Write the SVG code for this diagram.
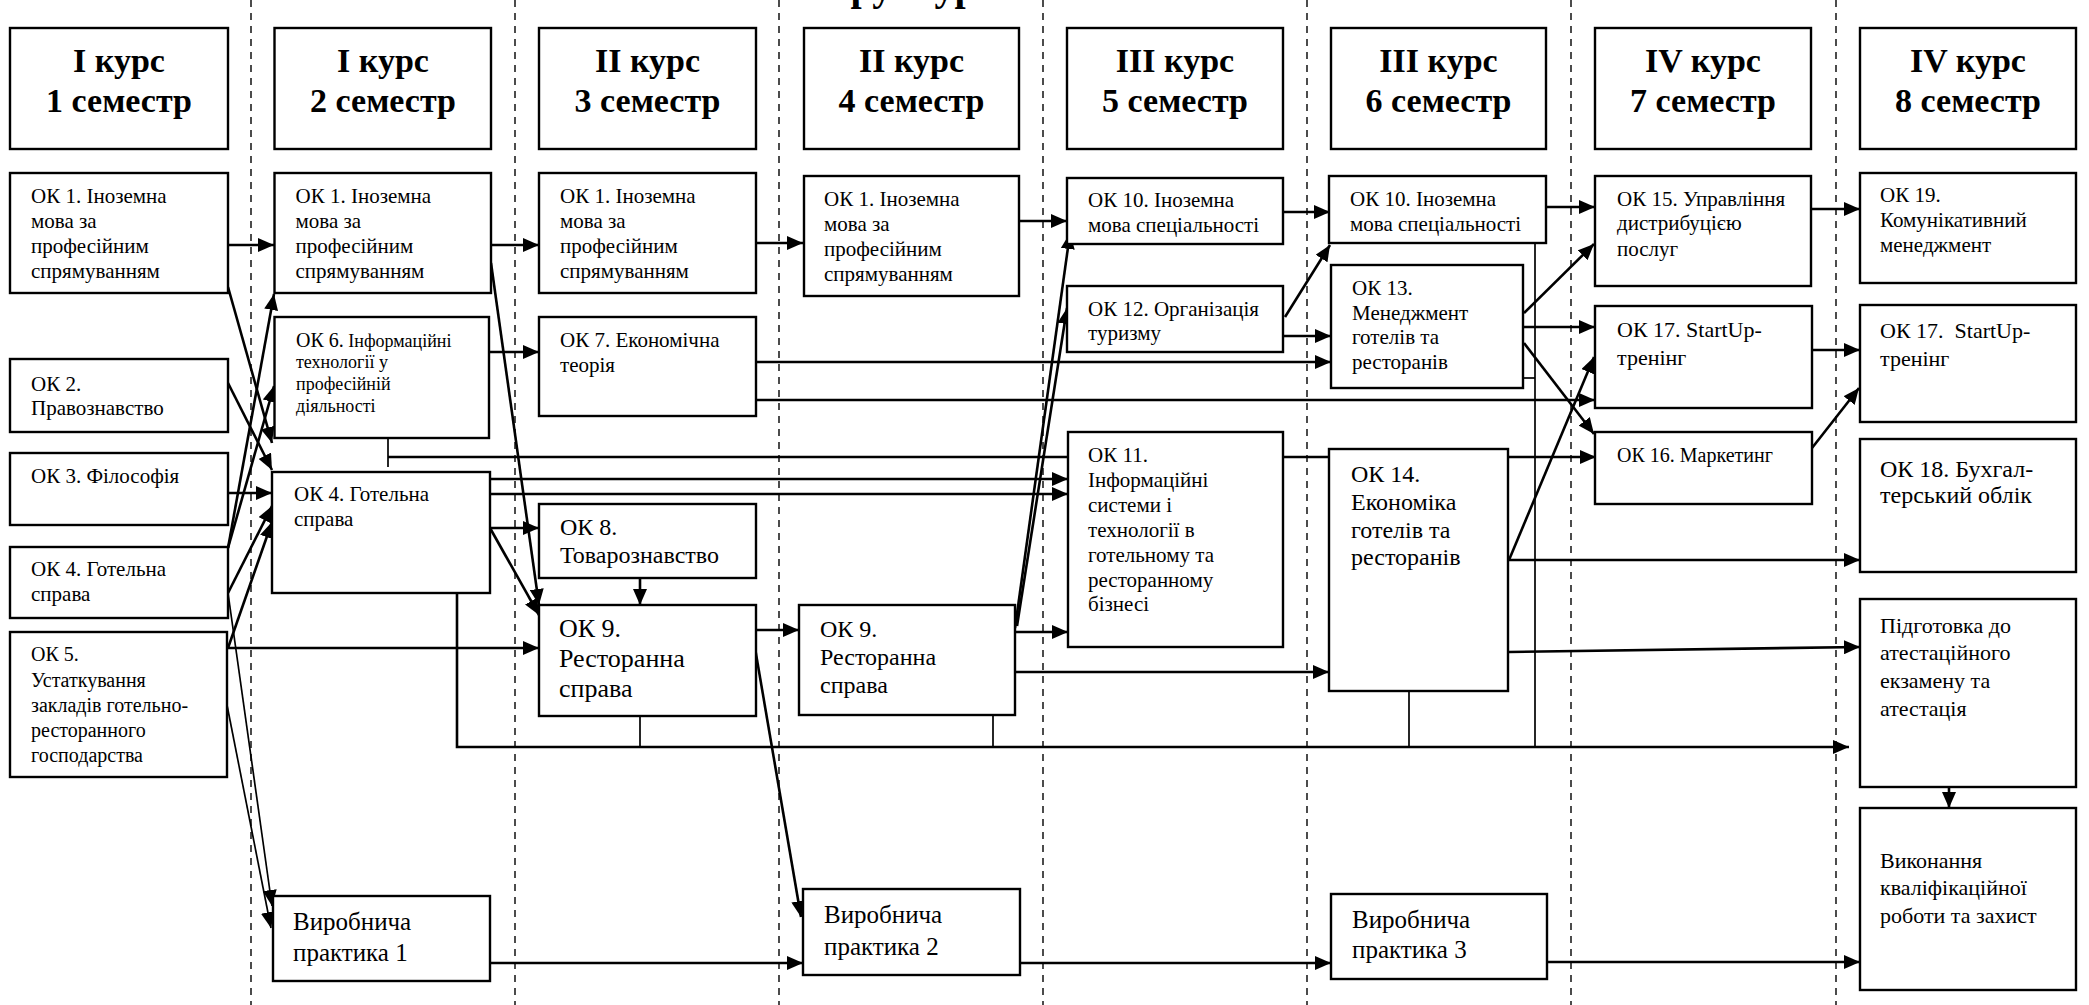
<svg xmlns="http://www.w3.org/2000/svg" width="2089" height="1005" viewBox="0 0 2089 1005">
<style>
  .bg{fill:#fff}
  .box{fill:#fff;stroke:#000;stroke-width:2.4}
  .hd{font-family:"Liberation Serif","Times New Roman",serif;font-weight:bold;font-size:34px;text-anchor:middle;fill:#000}
  .t{font-family:"Liberation Serif","Times New Roman",serif;font-size:21px;fill:#000}
  .t18{font-size:18px}
  .t20{font-size:20px}
  .t22{font-size:22px}
  .t24{font-size:24px}
  .t25{font-size:25px}
  .t26{font-size:26px}
  .title{font-family:"Liberation Serif","Times New Roman",serif;font-weight:bold;font-size:40px;fill:#000}
  .dash{stroke:#000;stroke-width:1.4;stroke-dasharray:7 6;fill:none}
  .c{stroke:#000;stroke-width:2.6;fill:none}
  .a{marker-end:url(#ah)}
  .thin{stroke-width:1.7}
</style>
<defs>
  <marker id="ah" markerWidth="16" markerHeight="14" refX="16" refY="7" orient="auto" markerUnits="userSpaceOnUse">
    <path d="M0,0 L16,7 L0,14 z" fill="#000"/>
  </marker>
</defs>
<rect class="bg" x="0" y="0" width="2089" height="1005"/>
<text class="title" x="802" y="0">Структурно-логічна схема</text>
<g id="dividers">
  <line class="dash" x1="251" y1="0" x2="251" y2="1005"/>
  <line class="dash" x1="515" y1="0" x2="515" y2="1005"/>
  <line class="dash" x1="779" y1="0" x2="779" y2="1005"/>
  <line class="dash" x1="1043" y1="0" x2="1043" y2="1005"/>
  <line class="dash" x1="1307" y1="0" x2="1307" y2="1005"/>
  <line class="dash" x1="1571" y1="0" x2="1571" y2="1005"/>
  <line class="dash" x1="1836" y1="0" x2="1836" y2="1005"/>
</g>

<g id="connectors">
  <path class="c a" d="M228,245 H274"/>
  <path class="c a" d="M491,245 H539"/>
  <path class="c a" d="M756,243 H803"/>
  <path class="c a" d="M1019,221 H1067"/>
  <path class="c a" d="M1283,212 H1330"/>
  <path class="c a" d="M1546,207 H1595"/>
  <path class="c a" d="M1811,209 H1860"/>
  <path class="c a" d="M228,287 L272,443"/>
  <path class="c a" d="M228,383 L272,470"/>
  <path class="c a" d="M228,493 H272"/>
  <path class="c a" d="M228,548 L274,294"/>
  <path class="c a" d="M228,548 L274,386"/>
  <path class="c a" d="M228,593 L272,506"/>
  <path class="c a" d="M228,648 L272,522"/>
  <path class="c thin a" d="M228,593 L272,906"/>
  <path class="c thin a" d="M227,705 L271,928"/>
  <path class="c a" d="M228,648 H539"/>
  <path class="c a" d="M491,263 L539,605"/>
  <path class="c a" d="M489,352 H539"/>
  <path class="c a" d="M490,479 H1068"/>
  <path class="c a" d="M490,494 H1068"/>
  <path class="c a" d="M490,528 H539"/>
  <path class="c a" d="M490,528 L539,615"/>
  <path class="c thin" d="M388,438 V467"/>
  <path class="c a" d="M388,457 H1068 M1283,457 H1329 M1508,457 H1596"/>
  <path class="c a" d="M640,578 V605"/>
  <path class="c a" d="M756,630 H799"/>
  <path class="c a" d="M755,648 L801,917"/>
  <path class="c a" d="M490,963 H803"/>
  <path class="c a" d="M1020,963 H1331"/>
  <path class="c a" d="M1547,962 H1860"/>
  <path class="c a" d="M756,362 H1331"/>
  <path class="c a" d="M756,400 H1595"/>
  <path class="c a" d="M1015,628 L1070,233"/>
  <path class="c a" d="M1017,626 L1067,308"/>
  <path class="c a" d="M1015,632 H1068"/>
  <path class="c a" d="M1015,672 H1329"/>
  <path class="c a" d="M1285,317 L1330,245"/>
  <path class="c a" d="M1283,336 H1331"/>
  <path class="c a" d="M1524,313 L1594,244"/>
  <path class="c a" d="M1523,327 H1595"/>
  <path class="c a" d="M1524,343 L1594,434"/>
  <path class="c thin" d="M1523,378 H1535"/>
  <path class="c thin" d="M1535,243 V747"/>
  <path class="c a" d="M1509,560 L1594,357"/>
  <path class="c a" d="M1509,560 H1860"/>
  <path class="c a" d="M1509,652 L1860,647"/>
  <path class="c thin" d="M1409,691 V747"/>
  <path class="c thin" d="M640,716 V747"/>
  <path class="c thin" d="M993,715 V747"/>
  <path class="c a" d="M457,593 V747 H1849"/>
  <path class="c a" d="M1811,350 H1860"/>
  <path class="c a" d="M1812,448 L1859,388"/>
  <path class="c a" d="M1949,787 V808"/>
</g>

<g id="h1"><rect class="box" x="10" y="28" width="218" height="121"/><text class="hd" x="119" y="72">I курс</text><text class="hd" x="119" y="112">1 семестр</text></g>
<g id="h2"><rect class="box" x="274.5" y="28" width="216.5" height="121"/><text class="hd" x="383" y="72">I курс</text><text class="hd" x="383" y="112">2 семестр</text></g>
<g id="h3"><rect class="box" x="539" y="28" width="217" height="121"/><text class="hd" x="647.5" y="72">II курс</text><text class="hd" x="647.5" y="112">3 семестр</text></g>
<g id="h4"><rect class="box" x="804" y="28" width="215" height="121"/><text class="hd" x="911.5" y="72">II курс</text><text class="hd" x="911.5" y="112">4 семестр</text></g>
<g id="h5"><rect class="box" x="1067" y="28" width="216" height="121"/><text class="hd" x="1175" y="72">III курс</text><text class="hd" x="1175" y="112">5 семестр</text></g>
<g id="h6"><rect class="box" x="1331" y="28" width="215" height="121"/><text class="hd" x="1438.5" y="72">III курс</text><text class="hd" x="1438.5" y="112">6 семестр</text></g>
<g id="h7"><rect class="box" x="1595" y="28" width="216" height="121"/><text class="hd" x="1703" y="72">IV курс</text><text class="hd" x="1703" y="112">7 семестр</text></g>
<g id="h8"><rect class="box" x="1860" y="28" width="216" height="121"/><text class="hd" x="1968" y="72">IV курс</text><text class="hd" x="1968" y="112">8 семестр</text></g>

<g id="ok1-s1"><rect class="box" x="10" y="173" width="218" height="120"/><text class="t" x="31" y="203">ОК 1. Іноземна</text><text class="t" x="31" y="228">мова за</text><text class="t" x="31" y="253">професійним</text><text class="t" x="31" y="278">спрямуванням</text></g>
<g id="ok2"><rect class="box" x="10" y="359" width="218" height="73"/><text class="t" x="31" y="391">ОК 2.</text><text class="t" x="31" y="415">Правознавство</text></g>
<g id="ok3"><rect class="box" x="10" y="453" width="218" height="72"/><text class="t" x="31" y="483">ОК 3. Філософія</text></g>
<g id="ok4-s1"><rect class="box" x="10" y="547" width="218" height="71"/><text class="t" x="31" y="576">ОК 4. Готельна</text><text class="t" x="31" y="601">справа</text></g>
<g id="ok5"><rect class="box" x="10" y="632" width="217" height="145"/><text class="t t20" x="31" y="661">ОК 5.</text><text class="t t20" x="31" y="687">Устаткування</text><text class="t t20" x="31" y="712">закладів готельно-</text><text class="t t20" x="31" y="737">ресторанного</text><text class="t t20" x="31" y="762">господарства</text></g>

<g id="ok1-s2"><rect class="box" x="274.5" y="173" width="216.5" height="120"/><text class="t" x="295.5" y="203">ОК 1. Іноземна</text><text class="t" x="295.5" y="228">мова за</text><text class="t" x="295.5" y="253">професійним</text><text class="t" x="295.5" y="278">спрямуванням</text></g>
<g id="ok6"><rect class="box" x="274.5" y="317" width="214.5" height="121"/><text class="t" x="296" y="347"><tspan class="t20">ОК 6.</tspan><tspan class="t18"> Інформаційні</tspan></text><text class="t t18" x="296" y="368">технології у</text><text class="t t18" x="296" y="390">професійній</text><text class="t t18" x="296" y="412">діяльності</text></g>
<g id="ok4-s2"><rect class="box" x="272" y="472" width="218" height="121"/><text class="t" x="294" y="501">ОК 4. Готельна</text><text class="t" x="294" y="526">справа</text></g>
<g id="vp1"><rect class="box" x="273" y="896" width="217" height="85"/><text class="t t25" x="293" y="930">Виробнича</text><text class="t t25" x="293" y="961">практика 1</text></g>

<g id="ok1-s3"><rect class="box" x="539" y="173" width="217" height="120"/><text class="t" x="560" y="203">ОК 1. Іноземна</text><text class="t" x="560" y="228">мова за</text><text class="t" x="560" y="253">професійним</text><text class="t" x="560" y="278">спрямуванням</text></g>
<g id="ok7"><rect class="box" x="539" y="317" width="217" height="99"/><text class="t" x="560" y="347">ОК 7. Економічна</text><text class="t" x="560" y="372">теорія</text></g>
<g id="ok8"><rect class="box" x="539" y="504" width="217" height="74"/><text class="t t24" x="560" y="535">ОК 8.</text><text class="t t24" x="560" y="563">Товарознавство</text></g>
<g id="ok9-s3"><rect class="box" x="539" y="605" width="217" height="111"/><text class="t t26" x="559" y="637">ОК 9.</text><text class="t t26" x="559" y="667">Ресторанна</text><text class="t t26" x="559" y="697">справа</text></g>

<g id="ok1-s4"><rect class="box" x="804" y="176" width="215" height="120"/><text class="t" x="824" y="206">ОК 1. Іноземна</text><text class="t" x="824" y="231">мова за</text><text class="t" x="824" y="256">професійним</text><text class="t" x="824" y="281">спрямуванням</text></g>
<g id="ok9-s4"><rect class="box" x="799" y="605" width="216" height="110"/><text class="t t24" x="820" y="637">ОК 9.</text><text class="t t24" x="820" y="665">Ресторанна</text><text class="t t24" x="820" y="693">справа</text></g>
<g id="vp2"><rect class="box" x="803" y="889" width="217" height="86"/><text class="t t25" x="824" y="923">Виробнича</text><text class="t t25" x="824" y="955">практика 2</text></g>

<g id="ok10-s5"><rect class="box" x="1067" y="178" width="216" height="66"/><text class="t" x="1088" y="207">ОК 10. Іноземна</text><text class="t" x="1088" y="232">мова спеціальності</text></g>
<g id="ok12"><rect class="box" x="1067" y="286" width="216" height="66"/><text class="t" x="1088" y="316">ОК 12. Організація</text><text class="t" x="1088" y="340">туризму</text></g>
<g id="ok11"><rect class="box" x="1068" y="432" width="215" height="215"/><text class="t" x="1088" y="462">ОК 11.</text><text class="t" x="1088" y="487">Інформаційні</text><text class="t" x="1088" y="512">системи і</text><text class="t" x="1088" y="537">технології в</text><text class="t" x="1088" y="562">готельному та</text><text class="t" x="1088" y="587">ресторанному</text><text class="t" x="1088" y="611">бізнесі</text></g>

<g id="ok10-s6"><rect class="box" x="1329" y="176" width="217" height="67"/><text class="t" x="1350" y="206">ОК 10. Іноземна</text><text class="t" x="1350" y="231">мова спеціальності</text></g>
<g id="ok13"><rect class="box" x="1331" y="265" width="192" height="123"/><text class="t" x="1352" y="295">ОК 13.</text><text class="t" x="1352" y="320">Менеджмент</text><text class="t" x="1352" y="344">готелів та</text><text class="t" x="1352" y="369">ресторанів</text></g>
<g id="ok14"><rect class="box" x="1329" y="449" width="179" height="242"/><text class="t t24" x="1351" y="482">ОК 14.</text><text class="t t24" x="1351" y="510">Економіка</text><text class="t t24" x="1351" y="538">готелів та</text><text class="t t24" x="1351" y="565">ресторанів</text></g>
<g id="vp3"><rect class="box" x="1331" y="894" width="216" height="85"/><text class="t t25" x="1352" y="928">Виробнича</text><text class="t t25" x="1352" y="958">практика 3</text></g>

<g id="ok15"><rect class="box" x="1595" y="176" width="216" height="110"/><text class="t" x="1617" y="206">ОК 15. Управління</text><text class="t" x="1617" y="230">дистрибуцією</text><text class="t" x="1617" y="256">послуг</text></g>
<g id="ok17-s7"><rect class="box" x="1595" y="306" width="217" height="102"/><text class="t t22" x="1617" y="337">ОК 17. StartUp-</text><text class="t t22" x="1617" y="365">тренінг</text></g>
<g id="ok16"><rect class="box" x="1595" y="432" width="217" height="72"/><text class="t t20" x="1617" y="462">ОК 16. Маркетинг</text></g>

<g id="ok19"><rect class="box" x="1860" y="173" width="216" height="110"/><text class="t" x="1880" y="202">ОК 19.</text><text class="t" x="1880" y="227">Комунікативний</text><text class="t" x="1880" y="252">менеджмент</text></g>
<g id="ok17-s8"><rect class="box" x="1860" y="305" width="216" height="117"/><text class="t t22" x="1880" y="338">ОК 17.&#160; StartUp-</text><text class="t t22" x="1880" y="366">тренінг</text></g>
<g id="ok18"><rect class="box" x="1860" y="439" width="216" height="133"/><text class="t t24" x="1880" y="477">ОК 18. Бухгал-</text><text class="t t24" x="1880" y="503">терський облік</text></g>
<g id="attest"><rect class="box" x="1860" y="599" width="216" height="188"/><text class="t t22" x="1880" y="633">Підготовка до</text><text class="t t22" x="1880" y="660">атестаційного</text><text class="t t22" x="1880" y="688">екзамену та</text><text class="t t22" x="1880" y="716">атестація</text></g>
<g id="thesis"><rect class="box" x="1860" y="808" width="216" height="182"/><text class="t t22" x="1880" y="868">Виконання</text><text class="t t22" x="1880" y="895">кваліфікаційної</text><text class="t t22" x="1880" y="923">роботи та захист</text></g>
</svg>
